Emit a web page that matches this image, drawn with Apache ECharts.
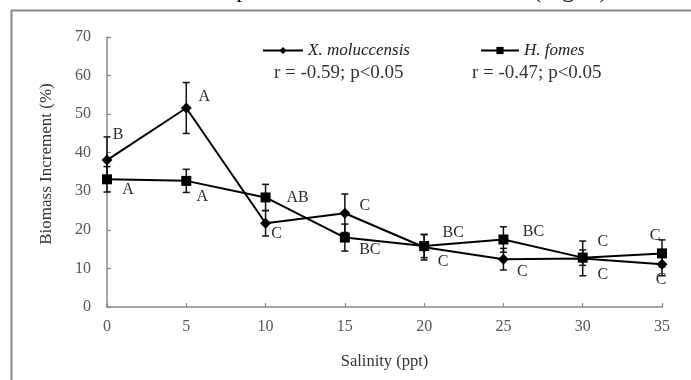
<!DOCTYPE html>
<html>
<head>
<meta charset="utf-8">
<script src="https://cdn.jsdelivr.net/npm/echarts@6/dist/echarts.min.js"></script>
<style>html,body{margin:0;padding:0;background:#fff}#c{width:691px;height:380px}</style>
</head>
<body>
<div id="c"></div>
<script>
// ---- data ----
const salinity = [0, 5, 10, 15, 20, 25, 30, 35];
const xMolMean = [38.1, 51.6, 21.7, 24.3, 15.5, 12.4, 12.6, 11.1];
const xMolErr  = [6.0, 6.6, 3.3, 5.0, 3.3, 2.8, 4.5, 3.0];
const xMolLetters = ['B', 'A', 'C', 'C', 'C', 'C', 'C', 'C'];
const hFomMean = [33.1, 32.7, 28.4, 18.0, 15.8, 17.5, 12.8, 13.9];
const hFomErr  = [3.3, 3.0, 3.4, 3.5, 3.0, 3.3, 2.0, 3.5];
const hFomLetters = ['A', 'A', 'AB', 'BC', 'BC', 'BC', 'C', 'C'];
const yTicks = [0, 10, 20, 30, 40, 50, 60, 70];
const xTicks = [0, 5, 10, 15, 20, 25, 30, 35];
const names = ['X. moluccensis', 'H. fomes'];
const statTexts = ['r = -0.59; p<0.05', 'r = -0.47; p<0.05'];
const yAxisTitle = 'Biomass Increment (%)';
const xAxisTitle = 'Salinity (ppt)';

// ---- label pixel offsets (style) ----
const xMolOff = [[11,-25],[18,-11],[11,10],[20,-7],[19,15],[19,13],[20,16],[-1,16]];
const hFomOff = [[21,10],[16,16],[32,0],[25,12],[29,-13],[30,-8],[20,-16],[-7,-18]];

const serif = '"Liberation Serif", "DejaVu Serif", serif';
const chart = echarts.init(document.getElementById('c'), null, {renderer: 'canvas'});

function errSeries(mean, err) {
  return {
    type: 'custom', silent: true, z: 3,
    data: salinity.map((x, i) => [x, mean[i], err[i]]),
    renderItem: function (params, api) {
      const x = api.value(0), m = api.value(1), e = api.value(2);
      const top = api.coord([x, m + e]), bot = api.coord([x, m - e]);
      const hw = 3.5;
      const st = {stroke: '#111', lineWidth: 1.5};
      return {type: 'group', children: [
        {type: 'line', shape: {x1: top[0], y1: top[1], x2: bot[0], y2: bot[1]}, style: st},
        {type: 'line', shape: {x1: top[0]-hw, y1: top[1], x2: top[0]+hw, y2: top[1]}, style: st},
        {type: 'line', shape: {x1: bot[0]-hw, y1: bot[1], x2: bot[0]+hw, y2: bot[1]}, style: st}
      ]};
    }
  };
}
function letterSeries(mean, letters, offs) {
  return {
    type: 'custom', silent: true, z: 5, clip: false,
    data: salinity.map((x, i) => [x, mean[i], i]),
    renderItem: function (params, api) {
      const i = api.value(2);
      const p = api.coord([api.value(0), api.value(1)]);
      return {type: 'text', style: {
        text: letters[i], x: p[0] + offs[i][0], y: p[1] + offs[i][1],
        align: 'center', verticalAlign: 'middle',
        font: '16px ' + serif, fill: '#2a2a2a'
      }};
    }
  };
}

chart.setOption({
  animation: false,
  backgroundColor: '#fff',
  grid: {left: 107, right: 29, top: 37, bottom: 73},
  legend: [
    {left: 257, top: 37, itemWidth: 40, itemHeight: 9, data: [names[0]],
     textStyle: {fontFamily: serif, fontStyle: 'italic', fontSize: 17, color: '#222'}},
    {left: 475, top: 37, itemWidth: 38, itemHeight: 9, data: [names[1]],
     textStyle: {fontFamily: serif, fontStyle: 'italic', fontSize: 17, color: '#222'}}
  ],
  xAxis: {
    type: 'value', min: xTicks[0], max: xTicks[xTicks.length-1], interval: 5,
    name: xAxisTitle, nameLocation: 'middle', nameGap: 46,
    nameTextStyle: {fontFamily: serif, fontSize: 16.5, color: '#333'},
    axisLine: {lineStyle: {color: '#888', width: 1.5}},
    axisTick: {inside: true, length: 4, lineStyle: {color: '#888', width: 1.2}},
    axisLabel: {fontFamily: serif, fontSize: 16, color: '#555', margin: 12},
    splitLine: {show: false}
  },
  yAxis: {
    type: 'value', min: yTicks[0], max: yTicks[yTicks.length-1], interval: 10,
    axisLine: {show: true, lineStyle: {color: '#888', width: 1.5}},
    axisTick: {show: true, inside: true, length: 4, lineStyle: {color: '#888', width: 1.2}},
    axisLabel: {fontFamily: serif, fontSize: 16, color: '#555', margin: 16},
    splitLine: {show: false}
  },
  series: [
    {name: names[0], type: 'line', data: salinity.map((x, i) => [x, xMolMean[i]]),
     symbol: 'diamond', symbolSize: 11, z: 4,
     lineStyle: {color: '#000', width: 2}, itemStyle: {color: '#000'}},
    {name: names[1], type: 'line', data: salinity.map((x, i) => [x, hFomMean[i]]),
     symbol: 'rect', symbolSize: 10, z: 4,
     lineStyle: {color: '#000', width: 2}, itemStyle: {color: '#000'}},
    errSeries(xMolMean, xMolErr),
    errSeries(hFomMean, hFomErr),
    letterSeries(xMolMean, xMolLetters, xMolOff),
    letterSeries(hFomMean, hFomLetters, hFomOff)
  ],
  graphic: [
    {type: 'text', x: 47, y: 164, rotation: Math.PI / 2,
     style: {text: yAxisTitle, font: '17px ' + serif, fill: '#333', align: 'center', verticalAlign: 'middle'}},
    {type: 'text', left: 274, top: 64, style: {text: statTexts[0], font: '19px ' + serif, fill: '#333'}},
    {type: 'text', left: 472, top: 64, style: {text: statTexts[1], font: '19px ' + serif, fill: '#333'}},
    {type: 'text', x: 614, y: 3, style: {text: 'found to decrease compared to non saline condition (Fig. 3).',
      font: '25px ' + serif, fill: '#111', align: 'right', verticalAlign: 'bottom'}},
    {type: 'rect', shape: {x: 0, y: 10, width: 691, height: 6}, style: {fill: '#fff'}},
    {type: 'line', shape: {x1: 11, y1: 10.5, x2: 691, y2: 10.5}, style: {stroke: '#888', lineWidth: 2}},
    {type: 'line', shape: {x1: 11.5, y1: 10, x2: 11.5, y2: 380}, style: {stroke: '#888', lineWidth: 2}}
  ]
});
</script>
</body>
</html>
